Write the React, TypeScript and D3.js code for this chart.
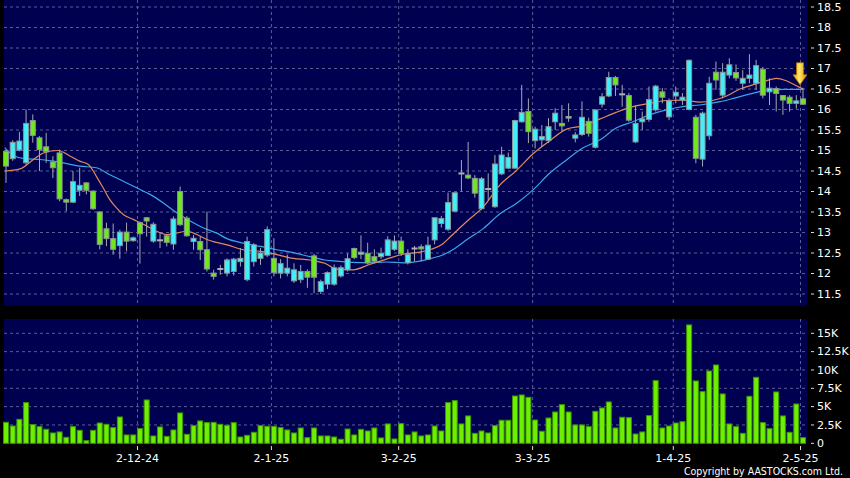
import React from 'react';
import * as d3 from 'd3';

const W = 850;
const H = 478;

// OHLC per trading day (index 0 .. 119)
const opens = [14.98,14.80,15.01,14.70,15.73,15.31,15.09,14.72,14.94,13.80,13.74,14.03,14.21,14.01,13.50,13.09,12.85,12.68,13.01,12.80,
13.24,13.36,12.79,12.81,12.92,12.72,14.00,13.35,12.78,12.78,12.58,12.01,12.11,12.01,12.05,12.29,11.85,12.29,12.37,12.45,
12.37,12.01,12.01,11.82,11.85,12.05,12.43,11.56,11.74,11.74,11.94,12.09,12.61,12.47,12.49,12.41,12.41,12.44,12.59,12.79,
12.26,12.61,12.65,12.35,12.82,13.22,13.08,13.52,14.44,14.40,14.32,13.58,14.06,13.63,14.43,14.57,14.57,15.70,15.95,15.24,
15.26,15.24,15.70,15.66,15.79,15.30,15.39,15.71,15.08,16.13,16.33,16.78,16.37,16.34,15.21,15.70,15.76,15.99,16.43,15.82,
16.33,16.23,16.00,15.81,14.79,15.36,16.91,16.35,16.84,16.90,16.64,16.76,16.64,16.98,16.43,16.51,16.34,16.30,16.15,16.26];
const highs = [15.02,15.25,15.45,16.00,15.88,15.35,15.43,14.86,15.02,13.83,14.50,14.58,14.23,14.03,13.52,13.24,13.22,13.07,13.24,12.90,
13.27,13.38,13.25,13.00,12.95,13.39,14.12,13.40,12.94,12.90,13.51,12.09,12.21,12.37,12.38,12.62,12.90,12.74,12.62,13.15,
12.86,12.35,12.46,12.25,12.21,12.10,12.48,11.85,12.05,12.22,12.20,12.49,12.63,12.93,12.75,12.59,12.63,12.91,12.93,12.90,
12.59,12.67,12.71,12.90,13.36,13.40,13.97,13.97,14.77,15.21,14.40,14.35,14.44,14.89,15.09,14.95,15.75,16.60,16.27,15.58,
15.62,15.79,16.03,16.11,16.15,15.45,16.20,15.80,16.00,16.40,16.92,16.82,16.60,16.40,16.10,15.95,16.56,16.60,16.52,16.27,
16.56,16.40,17.22,15.87,15.95,16.80,17.17,17.13,17.25,17.10,16.96,17.35,17.21,17.04,16.76,16.56,16.35,16.35,16.35,16.53];
const lows = [14.21,14.75,14.98,14.65,15.19,14.50,14.70,14.33,13.76,13.52,13.72,13.89,13.93,13.55,12.59,12.67,12.46,12.36,12.54,12.78,
12.24,12.90,12.75,12.62,12.66,12.58,13.16,12.90,12.58,12.33,12.05,11.85,11.97,11.93,11.95,12.17,11.81,12.17,12.21,12.40,
11.93,11.88,11.93,11.77,11.77,11.65,11.52,11.50,11.62,11.70,11.90,12.05,12.35,12.35,12.22,12.26,12.35,12.43,12.55,12.43,
12.22,12.30,12.30,12.33,12.71,13.12,13.04,13.50,14.00,14.30,13.85,13.55,13.79,13.60,14.40,14.55,14.55,15.68,15.18,15.05,
15.09,15.18,15.50,15.46,15.70,15.20,15.35,15.34,15.05,16.05,16.30,16.33,16.07,15.70,15.18,15.50,15.70,15.95,16.15,15.74,
16.15,16.11,15.98,14.69,14.61,15.26,16.48,16.27,16.76,16.70,16.48,16.64,16.48,16.27,16.11,15.95,15.87,15.95,16.02,16.11];
const closes = [14.62,15.20,15.23,15.66,15.37,15.02,14.97,14.58,13.82,13.74,14.24,14.15,14.03,13.58,12.71,12.85,12.59,13.01,12.79,12.87,
12.97,13.28,13.20,12.81,12.76,13.33,13.19,12.92,12.86,12.58,12.11,11.93,12.11,12.33,12.35,12.37,12.78,12.70,12.50,13.07,
12.02,12.24,12.13,12.09,12.05,11.91,11.91,11.80,12.02,12.14,12.14,12.36,12.39,12.52,12.26,12.30,12.49,12.82,12.79,12.49,
12.47,12.61,12.60,12.69,13.36,13.34,13.73,13.97,14.44,14.33,13.96,14.31,14.06,14.67,14.89,14.83,15.73,15.93,15.46,15.52,
15.34,15.58,15.91,15.60,15.83,15.38,15.81,15.42,15.99,16.31,16.78,16.60,16.37,15.74,15.66,15.77,16.24,16.57,16.30,16.21,
16.42,16.30,17.20,14.81,15.91,16.64,16.72,16.91,17.09,16.77,16.76,16.84,17.07,16.35,16.52,16.39,16.23,16.15,16.21,16.13];
// Volume in thousands of shares
const volumes = [2.86,2.36,3.27,5.55,2.55,2.27,1.91,1.41,1.55,0.82,2.27,1.77,0.36,1.77,2.77,2.59,2.14,3.59,1.14,1.14,
2.00,5.91,1.00,2.23,0.95,1.82,4.14,1.23,2.41,3.05,2.82,2.86,2.59,2.45,2.82,0.86,1.09,1.50,2.41,2.32,
2.32,2.14,1.82,1.41,2.09,0.77,2.09,1.00,1.00,0.86,0.55,1.95,1.14,1.91,1.68,2.09,0.73,2.64,0.59,2.68,
1.14,1.55,1.00,1.14,2.36,1.68,5.55,5.82,2.64,3.73,1.36,1.68,1.41,2.41,3.14,3.14,6.45,6.59,6.27,3.18,
1.64,3.45,4.27,5.27,4.27,2.50,2.50,2.27,4.36,4.82,5.64,2.09,3.55,3.50,1.27,1.55,3.77,8.55,2.09,2.36,
2.77,2.95,16.14,8.50,7.05,9.86,10.68,6.73,2.64,2.27,1.36,6.41,9.00,2.82,2.00,7.00,3.73,1.50,5.36,0.77];

// Moving averages (day index, price)
const maFastIdx = [-0.2,2.1,4.1,5.6,7.8,9.6,11.0,12.3,13.5,14.5,15.5,16.5,17.5,19.0,20.5,22.5,24.0,25.5,27.0,28.5,30.0,31.4,33.0,35.4,38.0,40.4,42.9,45.4,47.6,49.4,51.8,54.3,56.8,59.3,61.8,63.5,65.2,66.5,69.0,71.3,73.7,76.2,78.7,81.2,83.7,86.1,88.7,91.1,93.6,96.1,98.6,101.0,103.6,105.5,107.6,109.6,111.5,113.5,115.0,116.5,118.0,119.0];
const maFastVal = [14.50,14.55,14.78,14.94,15.00,14.86,14.74,14.66,14.37,14.09,13.80,13.60,13.44,13.32,13.20,13.03,12.95,12.99,13.03,12.95,12.83,12.76,12.70,12.58,12.54,12.46,12.37,12.33,12.25,12.10,12.09,12.22,12.35,12.47,12.52,12.59,12.72,12.92,13.30,13.63,14.15,14.51,14.92,15.24,15.52,15.60,15.77,15.93,16.07,16.15,16.22,16.23,16.18,16.22,16.33,16.50,16.60,16.70,16.76,16.70,16.58,16.50];
const maSlowIdx = [-0.2,1.1,2.8,5.1,7.1,9.1,11.0,13.5,15.5,17.5,19.5,21.5,23.5,25.5,27.5,29.5,31.4,33.0,35.4,38.0,40.4,42.9,45.4,47.6,49.4,51.8,54.3,56.8,59.3,61.8,63.5,65.2,66.7,69.0,71.3,73.7,76.2,78.7,81.2,83.7,86.1,88.7,91.1,93.6,96.1,98.6,101.0,103.6,106.6,108.6,111.1,113.6,116.1,119.0];
const maSlowVal = [15.07,14.88,14.80,14.78,14.74,14.68,14.62,14.58,14.41,14.25,14.09,13.93,13.72,13.48,13.28,13.11,12.99,12.85,12.74,12.66,12.58,12.51,12.41,12.33,12.30,12.27,12.26,12.28,12.26,12.30,12.37,12.45,12.58,12.85,13.10,13.45,13.71,14.04,14.45,14.77,15.06,15.26,15.55,15.70,15.87,15.99,16.07,16.11,16.19,16.27,16.38,16.47,16.49,16.49];

const dateLabels = ['2-12-24', '2-1-25', '3-2-25', '3-3-25', '1-4-25', '2-5-25'];
const dateIndex = [20, 40, 59, 79, 100, 119];
const priceTicks = [11.5,12,12.5,13,13.5,14,14.5,15,15.5,16,16.5,17,17.5,18,18.5];
const volTicks = [0, 2.5, 5, 7.5, 10, 12.5, 15];
const volTickLabels = ['0', '2.5K', '5K', '7.5K', '10K', '12.5K', '15K'];

const BG = '#000050';
const GRID = '#5c5c96';
const CYAN = '#3ff0fa';
const GREEN = '#6fe81c';
const WICK = '#a4a8b0';
const FONT = 'DejaVu Sans, sans-serif';

export default function App() {
  const n = closes.length;
  const x = d3.scaleLinear().domain([0, n - 1]).range([6, 803]);
  const y = d3.scaleLinear().domain([11.5, 18.5]).range([294, 7]);
  const yv = d3.scaleLinear().domain([0, 15]).range([443.3, 333.3]);

  const left = 4, right = 807;
  const mainTop = 0, mainBottom = 306;
  const volTop = 319, volBottom = 444;
  const bodyW = 5;

  const lineGen = d3.line<[number, number]>()
    .x(d => x(d[0]))
    .y(d => y(d[1]))
    .curve(d3.curveMonotoneX);
  const fastPts: [number, number][] = maFastIdx.map((v, i) => [v, maFastVal[i]]);
  const slowPts: [number, number][] = maSlowIdx.map((v, i) => [v, maSlowVal[i]]);

  const gridX = (i: number) => x(i - 0.37);

  const ax = x(n - 1) - 3;
  const aTop = y(highs[n - 1]) - 25;

  return (
    <svg width={W} height={H} style={{ position: 'absolute', left: 0, top: 0, display: 'block', background: '#000' }}>
      <defs>
        <linearGradient id="arrowGrad" x1="0" x2="1" y1="0" y2="0">
          <stop offset="0%" stopColor="#e8a000" />
          <stop offset="45%" stopColor="#ffe866" />
          <stop offset="100%" stopColor="#dc8e00" />
        </linearGradient>
      </defs>
      <rect x={0} y={0} width={W} height={H} fill="#000" />
      {/* panels */}
      <rect x={left} y={mainTop} width={right - left} height={mainBottom - mainTop} fill={BG} />
      <rect x={left} y={volTop} width={right - left} height={volBottom - volTop} fill={BG} />

      {/* main horizontal grid */}
      {priceTicks.map(t => (
        <line key={'pg' + t} x1={left} x2={right} y1={y(t)} y2={y(t)} stroke={GRID} strokeDasharray="3,3" strokeWidth={1} />
      ))}
      {/* volume horizontal grid */}
      {volTicks.filter(t => t > 0).map(t => (
        <line key={'vg' + t} x1={left} x2={right} y1={yv(t)} y2={yv(t)} stroke={GRID} strokeDasharray="3,3" strokeWidth={1} />
      ))}
      {/* vertical date grid */}
      {dateIndex.map((di, k) => (
        <g key={'dg' + k}>
          <line x1={gridX(di)} x2={gridX(di)} y1={mainTop} y2={mainBottom} stroke={GRID} strokeDasharray="3,3" />
          <line x1={gridX(di)} x2={gridX(di)} y1={volTop} y2={volBottom} stroke={GRID} strokeDasharray="3,3" />
          <line x1={gridX(di)} x2={gridX(di)} y1={446} y2={450} stroke="#ddd" />
          <text x={gridX(di)} y={462} textAnchor="middle" fill="#fff" fontSize={11} fontFamily={FONT}>{dateLabels[k]}</text>
        </g>
      ))}

      {/* moving averages */}
      <path d={lineGen(slowPts) || ''} fill="none" stroke="#3aa6e8" strokeWidth={1.2} />
      <path d={lineGen(fastPts) || ''} fill="none" stroke="#e08a5c" strokeWidth={1.2} />

      {/* candles */}
      {closes.map((c, i) => {
        const o = opens[i];
        const cx = x(i);
        const up = c > o;
        const doji = Math.abs(c - o) < 0.005;
        const top = y(Math.max(o, c));
        const bot = y(Math.min(o, c));
        return (
          <g key={'c' + i}>
            <line x1={cx} x2={cx} y1={y(highs[i])} y2={y(lows[i])} stroke={WICK} strokeWidth={1} />
            {doji ? (
              <line x1={cx - 3} x2={cx + 3} y1={top} y2={top} stroke="#b0b0b0" strokeWidth={2} />
            ) : (
              <rect x={cx - bodyW / 2} y={top} width={bodyW} height={Math.max(1, bot - top)}
                fill={up ? CYAN : GREEN} stroke="#8a9696" strokeWidth={1} />
            )}
          </g>
        );
      })}

      {/* volume bars */}
      {volumes.map((v, i) => (
        <rect key={'v' + i} x={x(i) - 2.5} y={yv(v)} width={5} height={yv(0) - yv(v)}
          fill="#6cf000" stroke="#3e9400" strokeWidth={1} />
      ))}

      {/* arrow */}
      <path d={`M${ax - 3.5},${aTop} L${ax + 3.5},${aTop} L${ax + 3.5},${aTop + 12} L${ax + 7},${aTop + 12} L${ax},${aTop + 22} L${ax - 7},${aTop + 12} L${ax - 3.5},${aTop + 12} Z`}
        fill="url(#arrowGrad)" stroke="#b87000" strokeWidth={0.8} />

      {/* right price axis */}
      {priceTicks.map(t => (
        <g key={'pt' + t}>
          <line x1={811} x2={814} y1={y(t)} y2={y(t)} stroke="#ddd" />
          <text x={817} y={y(t)} dy="0.35em" fill="#fff" fontSize={11} fontFamily={FONT}>{t}</text>
        </g>
      ))}
      {/* right volume axis */}
      {volTicks.map((t, k) => (
        <g key={'vt' + t}>
          <line x1={811} x2={814} y1={yv(t)} y2={yv(t)} stroke="#ddd" />
          <text x={817} y={yv(t)} dy="0.35em" fill="#fff" fontSize={11} fontFamily={FONT}>{volTickLabels[k]}</text>
        </g>
      ))}

      <text x={843} y={475} textAnchor="end" fill="#fff" fontSize={10.5} fontFamily="DejaVu Sans Condensed, DejaVu Sans, sans-serif">Copyright by AASTOCKS.com Ltd.</text>
    </svg>
  );
}
